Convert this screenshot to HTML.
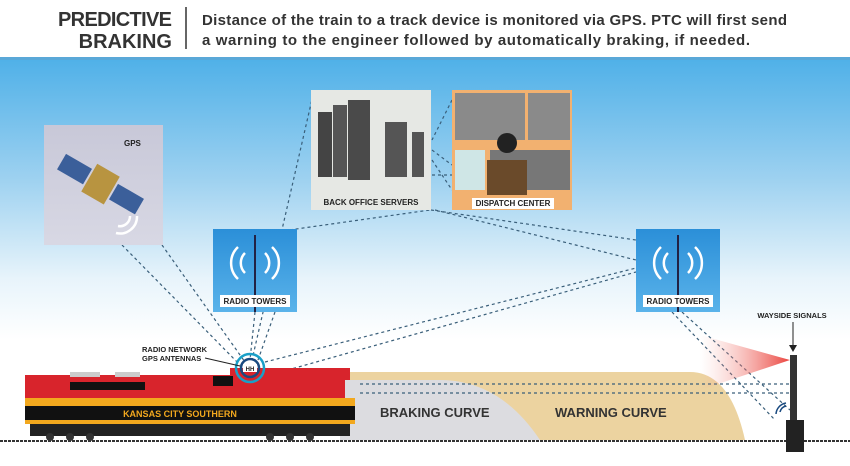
<!DOCTYPE html>
<html><head><meta charset="utf-8"><style>
body{margin:0;width:850px;height:461px;overflow:hidden;background:#fff;font-family:"Liberation Sans",sans-serif}
</style></head><body>
<svg width="850" height="461" viewBox="0 0 850 461" xmlns="http://www.w3.org/2000/svg" font-family="Liberation Sans, sans-serif">
<defs>
<linearGradient id="sky" x1="0" y1="0" x2="0" y2="1">
<stop offset="0" stop-color="#4eb0e8"/><stop offset="0.3" stop-color="#9dd1f0"/><stop offset="0.55" stop-color="#e8f4fb"/><stop offset="0.7" stop-color="#ffffff"/></linearGradient>
<linearGradient id="tw" x1="0" y1="0" x2="0" y2="1"><stop offset="0" stop-color="#2b8fd8"/><stop offset="1" stop-color="#5ab3ea"/></linearGradient>
<linearGradient id="beam" x1="1" y1="0" x2="0" y2="0"><stop offset="0" stop-color="#e8302a"/><stop offset="1" stop-color="#f6a8a0" stop-opacity="0"/></linearGradient>
<linearGradient id="gps" x1="0" y1="0" x2="0" y2="1"><stop offset="0" stop-color="#c8c8d8"/><stop offset="1" stop-color="#d8d8e4"/></linearGradient>
</defs>
<rect x="0" y="57" width="850" height="404" fill="url(#sky)"/>
<rect x="0" y="57" width="850" height="3" fill="#5aa8d8"/>
<!-- header -->
<text x="172" y="26" font-size="20" font-weight="bold" text-anchor="end" fill="#333" textLength="114">PREDICTIVE</text>
<text x="172" y="48" font-size="20" font-weight="bold" text-anchor="end" fill="#333">BRAKING</text>
<line x1="186" y1="7" x2="186" y2="49" stroke="#333" stroke-width="1.5"/>
<text x="202" y="25" font-size="15" font-weight="bold" fill="#333" textLength="585">Distance of the train to a track device is monitored via GPS. PTC will first send</text>
<text x="202" y="45" font-size="15" font-weight="bold" fill="#333" textLength="548">a warning to the engineer followed by automatically braking, if needed.</text>
<!-- curves -->
<path d="M340 372 L690 372 Q730 372 745 440 L340 440Z" fill="#ecd3a0"/>
<path d="M340 380 L440 380 Q500 380 540 440 L340 440Z" fill="#dcdce0"/>
<text x="380" y="417" font-size="13" font-weight="bold" fill="#333">BRAKING CURVE</text>
<text x="555" y="417" font-size="13" font-weight="bold" fill="#333">WARNING CURVE</text>
<!-- connectors -->
<g fill="none" stroke="#3a5f7a" stroke-width="1.2" stroke-dasharray="3,3">
<line x1="122" y1="245" x2="240" y2="365"/><line x1="162" y1="245" x2="245" y2="362"/>
<line x1="255" y1="312" x2="250" y2="360"/><line x1="275" y1="312" x2="258" y2="360"/>
<line x1="313" y1="95" x2="252" y2="360"/>
<line x1="254" y1="235" x2="430" y2="210"/>
<line x1="431" y1="210" x2="636" y2="240"/><line x1="435" y1="210" x2="636" y2="260"/>
<line x1="265" y1="362" x2="636" y2="268"/><line x1="270" y1="375" x2="636" y2="272"/>
<line x1="432" y1="150" x2="452" y2="165"/><line x1="432" y1="160" x2="452" y2="190"/><line x1="432" y1="175" x2="452" y2="175"/>
<line x1="452" y1="100" x2="432" y2="140"/>
<line x1="672" y1="312" x2="775" y2="420"/><line x1="682" y1="312" x2="790" y2="410"/>
<line x1="360" y1="384" x2="790" y2="384"/><line x1="360" y1="393" x2="790" y2="393"/>
</g>
<!-- GPS -->
<rect x="44" y="125" width="119" height="120" fill="url(#gps)"/>
<text x="124" y="146" font-size="8" font-weight="bold" fill="#222">GPS</text>
<g transform="rotate(30 100 185)"><rect x="55" y="175" width="30" height="18" fill="#3b5f9a"/><rect x="115" y="175" width="30" height="18" fill="#3b5f9a"/><rect x="87" y="168" width="26" height="32" fill="#b89440"/></g>
<path d="M118 226 a10 10 0 0 0 12 -10 M116 233 a17 17 0 0 0 21 -17" stroke="#fff" stroke-width="2.5" fill="none"/>
<!-- servers -->
<rect x="311" y="90" width="120" height="120" fill="#e6e8e4"/>
<rect x="318" y="112" width="14" height="65" fill="#444"/><rect x="333" y="105" width="14" height="72" fill="#555"/><rect x="348" y="100" width="22" height="80" fill="#4a4a4a"/><rect x="385" y="122" width="22" height="55" fill="#555"/><rect x="412" y="132" width="12" height="45" fill="#555"/>
<text x="371" y="205" font-size="8" font-weight="bold" text-anchor="middle" fill="#222">BACK OFFICE SERVERS</text>
<!-- dispatch -->
<rect x="452" y="90" width="120" height="120" fill="#f2b170"/>
<rect x="455" y="93" width="70" height="47" fill="#8a8a8a"/><rect x="528" y="93" width="42" height="47" fill="#8a8a8a"/>
<rect x="455" y="150" width="30" height="40" fill="#cfe6e6"/><rect x="490" y="150" width="80" height="40" fill="#777"/>
<rect x="487" y="160" width="40" height="35" fill="#6a4a2a"/><circle cx="507" cy="143" r="10" fill="#222"/>
<rect x="452" y="196" width="120" height="14" fill="#f2b170"/>
<rect x="472" y="198" width="82" height="11" fill="#fff"/>
<text x="513" y="206" font-size="8" font-weight="bold" text-anchor="middle" fill="#222">DISPATCH CENTER</text>
<!-- towers -->
<g id="t1">
<rect x="213" y="229" width="84" height="83" fill="url(#tw)"/>
<line x1="255" y1="235" x2="255" y2="312" stroke="#224" stroke-width="2"/>
<path d="M245 253 a14 14 0 0 0 0 20 M238 247 a22 22 0 0 0 0 32 M265 253 a14 14 0 0 1 0 20 M272 247 a22 22 0 0 1 0 32" stroke="#fff" stroke-width="2.5" fill="none"/>
<rect x="220" y="295" width="70" height="12" fill="#fff"/>
<text x="255" y="304" font-size="8" font-weight="bold" text-anchor="middle" fill="#222">RADIO TOWERS</text>
</g>
<use href="#t1" transform="translate(423 0)"/>
<!-- train -->
<rect x="25" y="375" width="320" height="25" fill="#d8242c"/>
<rect x="230" y="368" width="120" height="12" fill="#d8242c"/>
<rect x="70" y="372" width="30" height="5" fill="#ccc"/><rect x="115" y="372" width="25" height="5" fill="#ccc"/>
<rect x="70" y="382" width="75" height="8" fill="#111"/><rect x="213" y="376" width="20" height="10" fill="#111"/>
<rect x="25" y="398" width="330" height="8" fill="#f2a81e"/>
<rect x="25" y="406" width="330" height="14" fill="#111"/>
<text x="180" y="417" font-size="9" font-weight="bold" text-anchor="middle" fill="#f2a81e">KANSAS CITY SOUTHERN</text>
<rect x="25" y="420" width="330" height="4" fill="#f2a81e"/>
<rect x="30" y="424" width="320" height="12" fill="#222"/>
<g fill="#333"><circle cx="50" cy="437" r="4"/><circle cx="70" cy="437" r="4"/><circle cx="90" cy="437" r="4"/><circle cx="270" cy="437" r="4"/><circle cx="290" cy="437" r="4"/><circle cx="310" cy="437" r="4"/></g>
<!-- antenna -->
<g fill="none" stroke-width="2.5"><circle cx="250" cy="368" r="14" stroke="#1aa0c8"/><circle cx="250" cy="368" r="9" stroke="#1a4a80"/></g>
<rect x="243" y="364" width="14" height="8" fill="#fff"/>
<text x="250" y="371" font-size="6" font-weight="bold" text-anchor="middle" fill="#222">HH</text>
<text x="142" y="352" font-size="7.5" font-weight="bold" fill="#222">RADIO NETWORK</text>
<text x="142" y="361" font-size="7.5" font-weight="bold" fill="#222">GPS ANTENNAS</text>
<line x1="205" y1="358" x2="240" y2="366" stroke="#222" stroke-width="1"/>
<!-- track -->
<line x1="0" y1="441" x2="850" y2="441" stroke="#333" stroke-width="2" stroke-dasharray="3,1"/>
<!-- signal -->
<polygon points="790,360 700,335 700,390" fill="url(#beam)" opacity="0.9"/>
<rect x="790" y="355" width="7" height="70" fill="#333"/>
<rect x="786" y="420" width="18" height="32" fill="#222"/>
<text x="792" y="318" font-size="7.5" font-weight="bold" text-anchor="middle" fill="#222">WAYSIDE SIGNALS</text>
<line x1="793" y1="322" x2="793" y2="348" stroke="#222" stroke-width="1"/><polygon points="789,345 797,345 793,352" fill="#222"/>
<path d="M780 412 a8 8 0 0 1 6 -6 M776 414 a12 12 0 0 1 10 -11" stroke="#1a4a80" stroke-width="1.5" fill="none"/>
</svg>
</body></html>
